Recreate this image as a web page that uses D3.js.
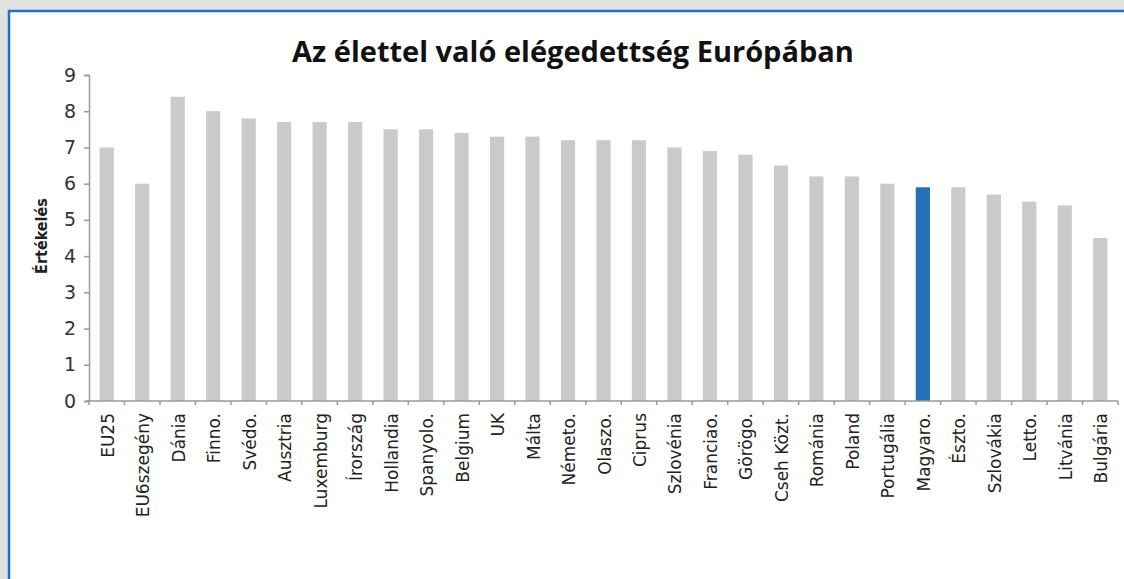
<!DOCTYPE html>
<html>
<head>
<meta charset="utf-8">
<script src="https://cdn.jsdelivr.net/npm/d3@7"></script>
<style>
  body { margin: 0; background: #e1e1e1; }
  svg { display: block; }
</style>
</head>
<body>
<div id="chart"></div>
<script>
// countries, in the order of the chart
const countries = ["EU25", "EU6szegény", "Dánia", "Finno.", "Svédo.", "Ausztria", "Luxemburg", "Írország",
  "Hollandia", "Spanyolo.", "Belgium", "UK", "Málta", "Németo.", "Olaszo.", "Ciprus", "Szlovénia",
  "Franciao.", "Görögo.", "Cseh Közt.", "Románia", "Poland", "Portugália", "Magyaro.", "Észto.",
  "Szlovákia", "Letto.", "Litvánia", "Bulgária"];
const scores = [7.0, 6.0, 8.4, 8.0, 7.8, 7.7, 7.7, 7.7, 7.5, 7.5, 7.4, 7.3, 7.3, 7.2, 7.2, 7.2, 7.0,
  6.9, 6.8, 6.5, 6.2, 6.2, 6.0, 5.9, 5.9, 5.7, 5.5, 5.4, 4.5];
const highlighted = ["Magyaro."];
const yTicks = [0, 1, 2, 3, 4, 5, 6, 7, 8, 9];

const width = 1124, height = 579;
const x0 = 89, x1 = 1118, yTop = 75, yBottom = 401;

const svg = d3.select("#chart").append("svg")
  .attr("width", width)
  .attr("height", height);

// white panel with blue frame
svg.append("rect")
  .attr("x", 9).attr("y", 11)
  .attr("width", width + 10).attr("height", height + 10)
  .attr("fill", "white")
  .attr("stroke", "#1f6fc2")
  .attr("stroke-width", 2.5);

const x = d3.scaleBand()
  .domain(countries)
  .range([x0, x1])
  .paddingInner(0.6)
  .paddingOuter(0.3);

const y = d3.scaleLinear()
  .domain([0, 9])
  .range([yBottom, yTop]);

svg.append("text")
  .attr("x", 573).attr("y", 62)
  .attr("text-anchor", "middle")
  .style("font-family", "'Open Sans', sans-serif")
  .style("font-weight", "700")
  .style("font-size", "29px")
  .attr("fill", "#111")
  .text("Az élettel való elégedettség Európában");

// bars
svg.selectAll(".bar")
  .data(countries)
  .enter()
  .append("rect")
  .attr("class", "bar")
  .attr("x", d => x(d))
  .attr("width", x.bandwidth())
  .attr("y", (d, i) => y(scores[i]))
  .attr("height", (d, i) => yBottom - y(scores[i]))
  .attr("fill", d => highlighted.includes(d) ? "#2870b6" : "#cacaca");

// y axis
const yAxis = svg.append("g")
  .attr("transform", `translate(${x0},0)`)
  .call(d3.axisLeft(y).tickValues(yTicks).tickSize(5).tickPadding(8));
yAxis.select(".domain").attr("stroke", "#9a9a9a").attr("stroke-width", 1.5);
yAxis.selectAll(".tick line").attr("stroke", "#9a9a9a").attr("stroke-width", 1.5);
yAxis.selectAll(".tick text")
  .style("font-family", "'DejaVu Sans', sans-serif")
  .style("font-size", "19px")
  .attr("fill", "#333");

// x axis: line plus ticks between categories
svg.append("line")
  .attr("x1", x0 - 3).attr("x2", x1)
  .attr("y1", yBottom).attr("y2", yBottom)
  .attr("stroke", "#9a9a9a").attr("stroke-width", 1.5);

svg.selectAll(".xtick")
  .data(d3.range(countries.length + 1))
  .enter()
  .append("line")
  .attr("x1", i => x0 + i * (x1 - x0) / countries.length)
  .attr("x2", i => x0 + i * (x1 - x0) / countries.length)
  .attr("y1", yBottom).attr("y2", yBottom + 4)
  .attr("stroke", "#9a9a9a").attr("stroke-width", 1.5);

svg.selectAll(".xlabel")
  .data(countries)
  .enter()
  .append("text")
  .attr("transform", d => `translate(${x(d) + x.bandwidth() / 2 + 7},${yBottom + 12}) rotate(-90)`)
  .attr("text-anchor", "end")
  .style("font-family", "'DejaVu Sans', sans-serif")
  .style("font-size", "17px")
  .attr("fill", "#222")
  .text(d => d);

// y axis title
svg.append("text")
  .attr("transform", "translate(47,236) rotate(-90)")
  .attr("text-anchor", "middle")
  .style("font-family", "'DejaVu Sans Condensed', 'DejaVu Sans', sans-serif")
  .style("font-weight", "700")
  .style("font-size", "16px")
  .attr("fill", "#222")
  .text("Értékelés");
</script>
</body>
</html>
